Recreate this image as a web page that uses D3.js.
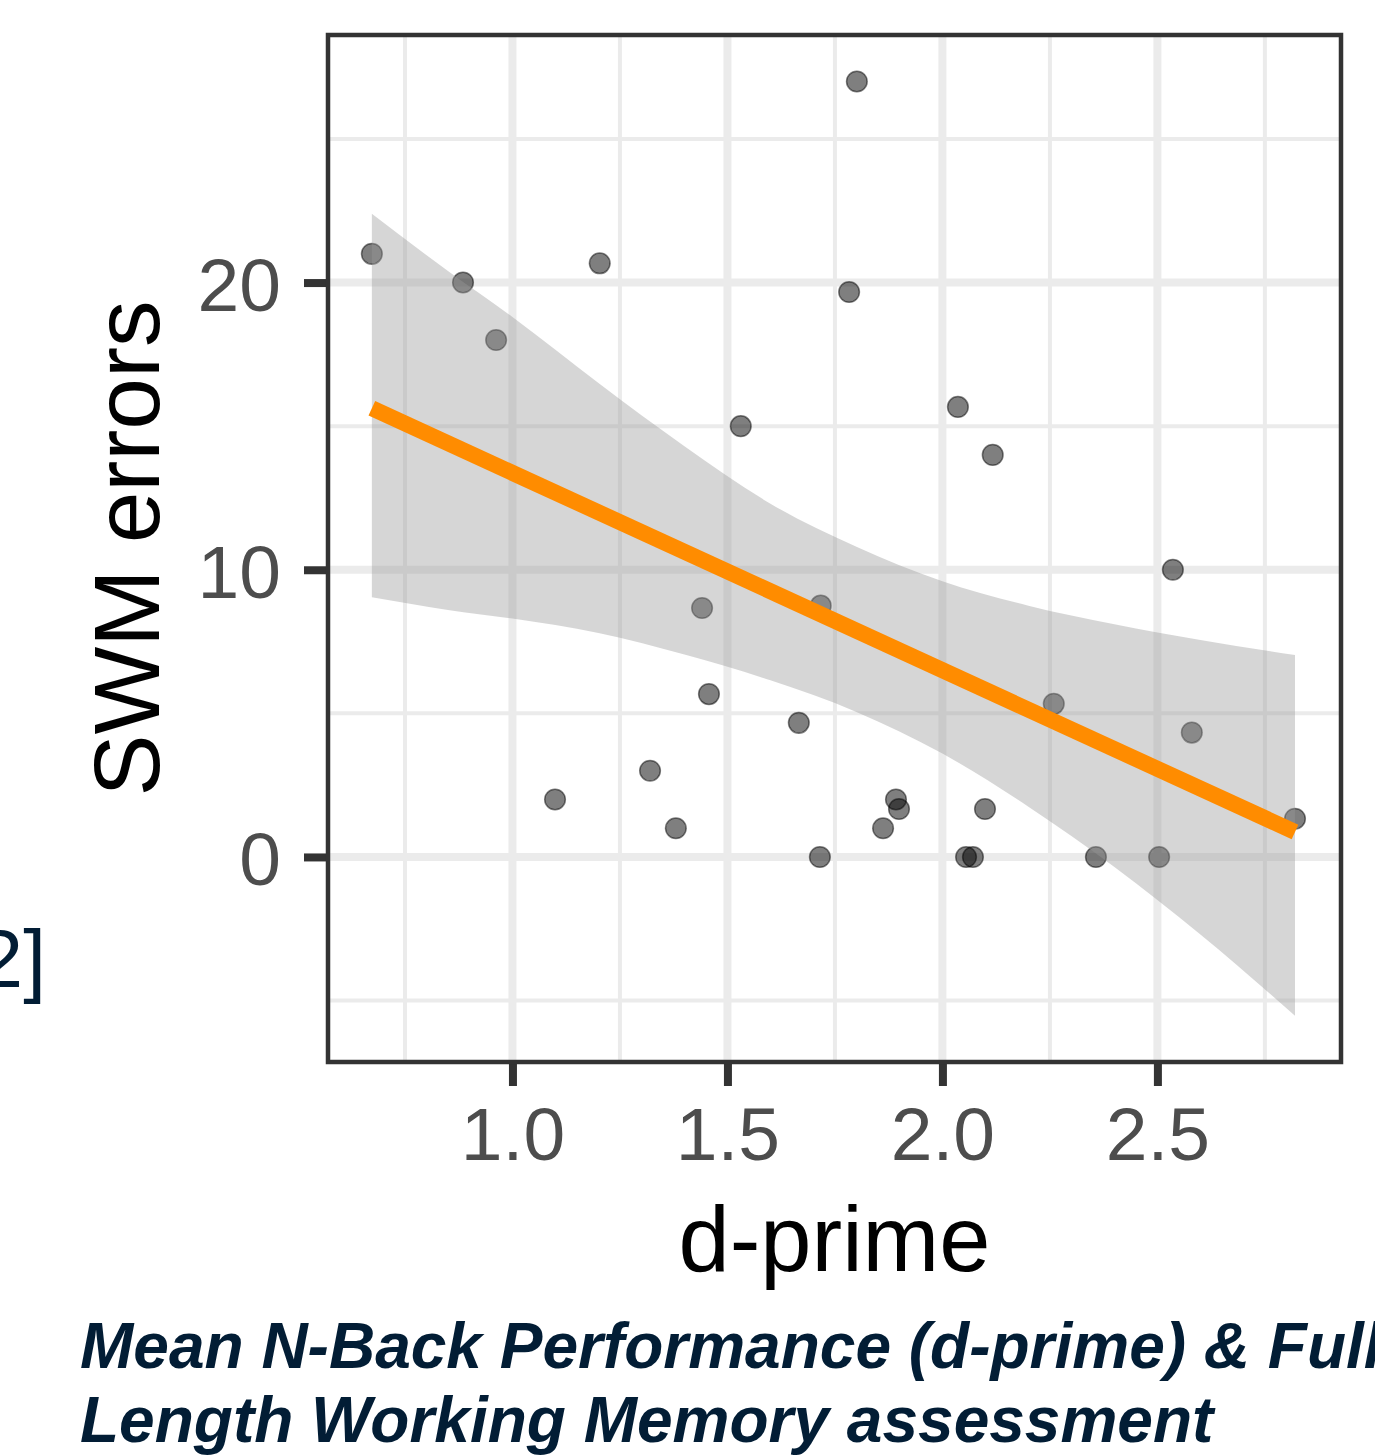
<!DOCTYPE html>
<html>
<head>
<meta charset="utf-8">
<script src="https://cdn.jsdelivr.net/npm/d3@7"></script>
<style>
  body { margin: 0; background: #fff; }
  svg { display: block; font-family: "Liberation Sans", Arial, sans-serif; }
</style>
</head>
<body>
<svg></svg>
<script>
// data
let dprime = [0.673, 0.885, 0.962, 1.099, 1.203, 1.320, 1.380, 1.441, 1.457, 1.531,
              1.666, 1.715, 1.717, 1.783, 1.801, 1.862, 1.892, 1.899, 2.036, 2.055,
              2.071, 2.099, 2.117, 2.259, 2.357, 2.504, 2.536, 2.580, 2.820]
let swmErrors = [21, 20, 18, 2, 20.67, 3, 1, 8.67, 5.67, 15,
                 4.67, 0, 8.75, 19.67, 27, 1, 2, 1.67, 15.67, 0,
                 0, 1.67, 14, 5.33, 0, 0, 10, 4.33, 1.33]

// fitted line (lm) and its confidence band
let fitX = [0.673, 2.820]
let fitY = [15.62, 0.87]
let bandX = [0.673, 0.85, 1.0, 1.2, 1.4, 1.6, 1.8, 2.0, 2.2, 2.4, 2.6, 2.820]
let bandHigh = [22.4, 20.4, 18.8, 16.5, 14.3, 12.3, 10.8, 9.6, 8.75, 8.1, 7.55, 7.03]
let bandLow = [9.04, 8.6, 8.3, 7.8, 7.05, 6.15, 5.05, 3.6, 1.75, -0.35, -2.7, -5.53]

let xTicks = [1.0, 1.5, 2.0, 2.5]
let xMinor = [0.75, 1.25, 1.75, 2.25, 2.75]
let yTicks = [0, 10, 20]
let yMinor = [-5, 5, 15, 25]

let xLabel = 'd-prime'
let yLabel = 'SWM errors'
let caption = ['Mean N-Back Performance (d-prime) & Full', 'Length Working Memory assessment']
let sideNote = '2]'

let width = 1375
let height = 1455
let panel = {left: 328, top: 35, right: 1341, bottom: 1062}

let xScale
let yScale

let svg = d3.select('svg')

const drawCanvas = () => {
    svg.attr('width', width)
    svg.attr('height', height)
    svg.append('rect')
       .attr('width', width)
       .attr('height', height)
       .attr('fill', '#fff')
}

const generateScales = () => {
    xScale = d3.scaleLinear()
               .domain([0.571, 2.927])
               .range([panel.left, panel.right])

    yScale = d3.scaleLinear()
               .domain([-7.14, 28.62])
               .range([panel.bottom, panel.top])
}

const drawGrid = () => {
    let grid = svg.append('g').attr('class', 'grid')

    const vLines = (vals, w) => {
        grid.selectAll(null)
            .data(vals)
            .enter()
            .append('line')
            .attr('x1', d => xScale(d))
            .attr('x2', d => xScale(d))
            .attr('y1', panel.top)
            .attr('y2', panel.bottom)
            .attr('stroke', '#ebebeb')
            .attr('stroke-width', w)
    }
    const hLines = (vals, w) => {
        grid.selectAll(null)
            .data(vals)
            .enter()
            .append('line')
            .attr('x1', panel.left)
            .attr('x2', panel.right)
            .attr('y1', d => yScale(d))
            .attr('y2', d => yScale(d))
            .attr('stroke', '#ebebeb')
            .attr('stroke-width', w)
    }
    vLines(xMinor, 4)
    hLines(yMinor, 4)
    vLines(xTicks, 8)
    hLines(yTicks, 8)
}

const drawPoints = () => {
    svg.append('g')
       .selectAll('circle')
       .data(dprime)
       .enter()
       .append('circle')
       .attr('cx', d => xScale(d))
       .attr('cy', (d, i) => yScale(swmErrors[i]))
       .attr('r', 10.3)
       .attr('fill', '#000')
       .attr('fill-opacity', 0.5)
       .attr('stroke', '#000')
       .attr('stroke-opacity', 0.5)
       .attr('stroke-width', 1.5)
}

const drawSmooth = () => {
    let area = d3.area()
                 .x(d => xScale(d))
                 .y0((d, i) => yScale(bandLow[i]))
                 .y1((d, i) => yScale(bandHigh[i]))
                 .curve(d3.curveMonotoneX)

    svg.append('path')
       .datum(bandX)
       .attr('d', area)
       .attr('fill', '#999999')
       .attr('fill-opacity', 0.4)

    let line = d3.line()
                 .x(d => xScale(d))
                 .y((d, i) => yScale(fitY[i]))

    svg.append('path')
       .datum(fitX)
       .attr('d', line)
       .attr('fill', 'none')
       .attr('stroke', '#ff8c00')
       .attr('stroke-width', 16)
}

const generateAxes = () => {
    let xAxis = d3.axisBottom(xScale)
                  .tickValues(xTicks)
                  .tickFormat(d3.format('.1f'))
                  .tickSizeInner(24)
                  .tickSizeOuter(0)
                  .tickPadding(21)

    let gx = svg.append('g')
                .attr('id', 'x-axis')
                .attr('transform', 'translate(0, ' + panel.bottom + ')')
                .call(xAxis)

    let yAxis = d3.axisLeft(yScale)
                  .tickValues(yTicks)
                  .tickFormat(d3.format('d'))
                  .tickSizeInner(24)
                  .tickSizeOuter(0)
                  .tickPadding(23)

    let gy = svg.append('g')
                .attr('id', 'y-axis')
                .attr('transform', 'translate(' + panel.left + ', 0)')
                .call(yAxis)

    gy.selectAll('text').attr('dy', '0.37em')

    ;[gx, gy].forEach(g => {
        g.select('.domain').remove()
        g.selectAll('line').attr('stroke', '#333').attr('stroke-width', 8)
        g.selectAll('text')
         .attr('fill', '#4d4d4d')
         .style('font-size', '75px')
         .style('font-family', '"Liberation Sans", Arial, sans-serif')
    })

    // panel border on top
    svg.append('rect')
       .attr('x', panel.left)
       .attr('y', panel.top)
       .attr('width', panel.right - panel.left)
       .attr('height', panel.bottom - panel.top)
       .attr('fill', 'none')
       .attr('stroke', '#333')
       .attr('stroke-width', 4.5)
}

const drawTexts = () => {
    svg.append('text')
       .attr('x', (panel.left + panel.right) / 2)
       .attr('y', 1271)
       .attr('text-anchor', 'middle')
       .style('font-size', '92px')
       .attr('fill', '#000')
       .text(xLabel)

    svg.append('text')
       .attr('transform', 'translate(159, ' + (panel.top + panel.bottom) / 2 + ') rotate(-90)')
       .attr('text-anchor', 'middle')
       .style('font-size', '93px')
       .attr('fill', '#000')
       .text(yLabel)

    svg.append('text')
       .attr('x', 46)
       .attr('y', 987)
       .attr('text-anchor', 'end')
       .style('font-size', '82px')
       .attr('fill', '#021d35')
       .text(sideNote)

    svg.selectAll('.caption')
       .data(caption)
       .enter()
       .append('text')
       .attr('class', 'caption')
       .attr('x', 80)
       .attr('y', (d, i) => 1368 + i * 74)
       .style('font-size', '64px')
       .style('font-weight', 'bold')
       .style('font-style', 'italic')
       .attr('fill', '#021d35')
       .text(d => d)
}

drawCanvas()
generateScales()
drawGrid()
drawPoints()
drawSmooth()
generateAxes()
drawTexts()
</script>
</body>
</html>
